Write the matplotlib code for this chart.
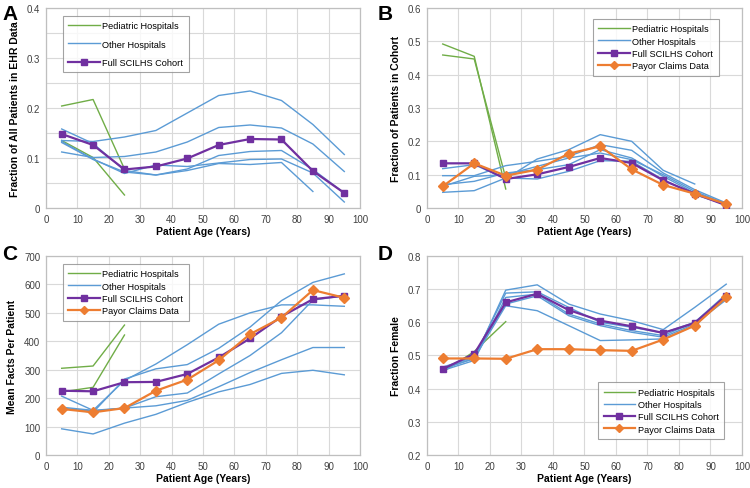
"""Four-panel SCILHS cohort comparison by patient age (A-D)."""
import matplotlib
matplotlib.use("Agg")
import matplotlib.pyplot as plt
import numpy as np
from matplotlib.ticker import FuncFormatter, MultipleLocator

plt.rcParams["font.family"] = ["Liberation Sans", "DejaVu Sans"]

# --- data -----------------------------------------------------------------
AGES = [5, 15, 25, 35, 45, 55, 65, 75, 85, 95]
PED_AGES = [5, 15, 25]
nan = np.nan

# A: fraction of all patients in EHR data
A_PED = [[0.204, 0.217, 0.078],
         [0.135, 0.101, 0.026]]
A_OTHER = [[0.135, 0.133, 0.142, 0.155, 0.190, 0.225, 0.234, 0.215, 0.167, 0.107],
           [0.112, 0.101, 0.103, 0.112, 0.132, 0.161, 0.166, 0.160, 0.128, 0.073],
           [0.158, 0.129, 0.075, 0.066, 0.078, 0.105, 0.113, 0.115, 0.077, 0.030],
           [0.133, 0.098, 0.069, 0.086, 0.083, 0.090, 0.097, 0.098, 0.070, 0.012],
           [0.131, 0.097, 0.072, 0.066, 0.075, 0.089, 0.087, 0.091, 0.033, nan]]
A_FULL = [0.148, 0.126, 0.077, 0.083, 0.099, 0.126, 0.138, 0.137, 0.074, 0.030]

# B: fraction of patients in cohort
B_PED = [[0.492, 0.455, 0.057],
         [0.459, 0.447, 0.090]]
B_OTHER = [[0.118, 0.130, 0.088, 0.147, 0.175, 0.220, 0.200, 0.113, 0.072, nan],
           [0.097, 0.097, 0.127, 0.140, 0.155, 0.190, 0.173, 0.105, 0.055, 0.015],
           [0.070, 0.080, 0.105, 0.115, 0.130, 0.175, 0.150, 0.095, 0.045, 0.012],
           [0.065, 0.095, 0.100, 0.125, 0.150, 0.165, 0.145, 0.100, 0.050, 0.012],
           [0.047, 0.052, 0.090, 0.087, 0.110, 0.142, 0.140, 0.085, 0.040, 0.010]]
B_FULL = [0.134, 0.134, 0.087, 0.101, 0.123, 0.150, 0.135, 0.083, 0.043, 0.008]
B_PAYOR = [0.065, 0.134, 0.097, 0.115, 0.163, 0.185, 0.116, 0.069, 0.043, 0.012]

# C: mean facts per patient
C_PED = [[305, 313, 457],
         [222, 238, 422]]
C_OTHER = [[92, 74, 112, 143, 185, 222, 248, 287, 298, 282],
           [168, 157, 165, 173, 192, 240, 290, 335, 378, 378],
           [163, 155, 165, 205, 218, 285, 350, 430, 545, 560],
           [207, 157, 262, 320, 388, 460, 500, 528, 528, 523],
           [165, 150, 267, 303, 318, 375, 450, 543, 607, 637]]
C_FULL = [226, 224, 256, 257, 285, 343, 410, 487, 548, 560]
C_PAYOR = [162, 150, 165, 226, 265, 333, 425, 483, 580, 553]

# D: fraction female
D_PED = [[0.450, 0.512, 0.602]]
D_OTHER = [[0.462, 0.490, 0.697, 0.713, 0.655, 0.625, 0.605, 0.578, 0.645, 0.715],
           [0.465, 0.495, 0.688, 0.692, 0.645, 0.600, 0.585, 0.568, 0.600, 0.685],
           [0.455, 0.485, 0.675, 0.685, 0.625, 0.595, 0.575, 0.560, 0.600, 0.680],
           [0.460, 0.500, 0.655, 0.680, 0.620, 0.590, 0.570, 0.555, 0.595, 0.668],
           [0.458, 0.492, 0.650, 0.635, 0.590, 0.545, 0.547, 0.550, 0.590, 0.675]]
D_FULL = [0.459, 0.505, 0.660, 0.686, 0.637, 0.605, 0.588, 0.568, 0.598, 0.680]
D_PAYOR = [0.491, 0.491, 0.490, 0.519, 0.519, 0.516, 0.514, 0.548, 0.590, 0.675]

# --- style ----------------------------------------------------------------
GREEN = "#70AD47"
BLUE = "#5B9BD5"
PURPLE = "#7030A0"
ORANGE = "#ED7D31"
GRID = "#D9D9D9"
FRAME = "#BFBFBF"


def draw_panel(ax, ped, other, full, payor=None):
    for i, ys in enumerate(ped):
        ax.plot(PED_AGES, ys, color=GREEN, lw=1.0, zorder=3,
                label="Pediatric Hospitals" if i == 0 else None)
    for i, ys in enumerate(other):
        ax.plot(AGES, ys, color=BLUE, lw=1.0, zorder=3,
                label="Other Hospitals" if i == 0 else None)
    ax.plot(AGES, full, color=PURPLE, lw=1.6, marker="s", ms=5, zorder=5,
            label="Full SCILHS Cohort")
    if payor is not None:
        ax.plot(AGES, payor, color=ORANGE, lw=1.6, marker="D", ms=5, zorder=6,
                label="Payor Claims Data")


def frame(ax, ylim, ystep, ylabel, grid_step=None):
    ax.set_xlim(0, 100)
    ax.set_ylim(*ylim)
    ax.xaxis.set_major_locator(MultipleLocator(10))
    ax.yaxis.set_major_locator(MultipleLocator(ystep))
    ax.yaxis.set_major_formatter(FuncFormatter(lambda v, p: f"{v:g}"))
    if grid_step is not None:
        ax.yaxis.set_minor_locator(MultipleLocator(grid_step))
        ax.grid(True, which="minor", axis="y", color=GRID, lw=0.8)
    ax.grid(True, which="major", color=GRID, lw=0.8)
    ax.set_axisbelow(True)
    ax.tick_params(length=0, which="both", labelsize=7, colors="#404040", pad=4)
    for s in ax.spines.values():
        s.set_color(FRAME)
        s.set_linewidth(0.9)
    ax.set_xlabel("Patient Age (Years)", fontsize=7.5, fontweight="bold", labelpad=2)
    ax.set_ylabel(ylabel, fontsize=7.5, fontweight="bold", labelpad=5)


def legend(ax, anchor, loc="upper left", spacing=0.35):
    lg = ax.legend(loc=loc, bbox_to_anchor=anchor, borderaxespad=0,
                   fontsize=6.6, frameon=True, fancybox=False, handlelength=3.4,
                   handletextpad=0.3, labelspacing=spacing, borderpad=0.6,
                   markerscale=0.75)
    lg.get_frame().set_edgecolor("#8C8C8C")
    lg.get_frame().set_linewidth(0.8)


fig = plt.figure(figsize=(7.5, 4.89), dpi=100)
axA = fig.add_axes([0.0613, 0.5726, 0.4187, 0.409])
axB = fig.add_axes([0.5693, 0.5726, 0.42, 0.409])
axC = fig.add_axes([0.0613, 0.0675, 0.4187, 0.407])
axD = fig.add_axes([0.5693, 0.0675, 0.42, 0.407])

draw_panel(axA, A_PED, A_OTHER, A_FULL)
frame(axA, (0, 0.4), 0.1, "Fraction of All Patients in EHR Data", grid_step=0.05)
legend(axA, (0.054, 0.96), spacing=1.0)

draw_panel(axB, B_PED, B_OTHER, B_FULL, B_PAYOR)
frame(axB, (0, 0.6), 0.1, "Fraction of Patients in Cohort")
legend(axB, (0.527, 0.945))

draw_panel(axC, C_PED, C_OTHER, C_FULL, C_PAYOR)
frame(axC, (0, 700), 100, "Mean Facts Per Patient")
legend(axC, (0.054, 0.96))

draw_panel(axD, D_PED, D_OTHER, D_FULL, D_PAYOR)
frame(axD, (0.2, 0.8), 0.1, "Fraction Female")
legend(axD, (0.943, 0.08), loc="lower right")

for x, y, letter in [(0.003, 0.99, "A"), (0.503, 0.99, "B"),
                     (0.003, 0.498, "C"), (0.503, 0.498, "D")]:
    fig.text(x, y, letter, fontsize=15, fontweight="bold", va="top", ha="left")

fig.savefig("out.png", dpi=100)
